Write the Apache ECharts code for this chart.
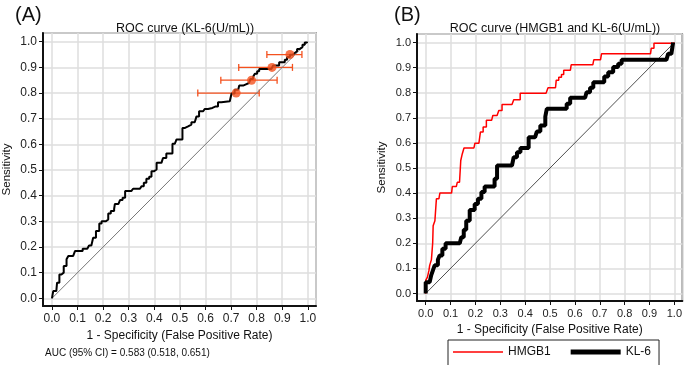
<!DOCTYPE html>
<html>
<head>
<meta charset="utf-8">
<script src="https://cdn.jsdelivr.net/npm/echarts@6/dist/echarts.min.js"></script>
<style>
  html, body { margin: 0; padding: 0; background: #fff; }
  #chart { width: 685px; height: 365px; }
</style>
</head>
<body>
<div id="chart"></div>
<script>
// panel A: KL-6 ROC curve (false positive rate, sensitivity)
const kl6A_fpr = [0, 0.005, 0.017, 0.02, 0.029, 0.037, 0.046, 0.057, 0.064, 0.083, 0.09, 0.109, 0.12, 0.138, 0.145, 0.154, 0.161, 0.172, 0.185, 0.194, 0.211, 0.22, 0.23, 0.243, 0.246, 0.26, 0.266, 0.276, 0.286, 0.31, 0.317, 0.344, 0.35, 0.359, 0.369, 0.38, 0.389, 0.398, 0.409, 0.428, 0.434, 0.447, 0.463, 0.471, 0.48, 0.487, 0.5, 0.51, 0.52, 0.532, 0.545, 0.558, 0.565, 0.575, 0.591, 0.597, 0.61, 0.627, 0.64, 0.649, 0.662, 0.695, 0.702, 0.714, 0.728, 0.732, 0.747, 0.756, 0.77, 0.776, 0.786, 0.793, 0.802, 0.81, 0.858, 0.864, 0.88, 0.888, 0.9, 0.91, 0.919, 0.93, 0.94, 0.949, 0.958, 0.969, 0.979, 0.988, 0.997];
const kl6A_tpr = [0, 0.028, 0.028, 0.061, 0.093, 0.10, 0.126, 0.152, 0.165, 0.165, 0.184, 0.184, 0.193, 0.197, 0.206, 0.206, 0.236, 0.262, 0.292, 0.30, 0.307, 0.331, 0.34, 0.348, 0.368, 0.37, 0.383, 0.392, 0.418, 0.42, 0.427, 0.427, 0.437, 0.45, 0.466, 0.474, 0.495, 0.502, 0.528, 0.528, 0.547, 0.564, 0.564, 0.602, 0.602, 0.619, 0.619, 0.664, 0.67, 0.677, 0.686, 0.686, 0.709, 0.729, 0.729, 0.738, 0.742, 0.748, 0.748, 0.764, 0.768, 0.768, 0.798, 0.813, 0.813, 0.829, 0.833, 0.839, 0.839, 0.855, 0.863, 0.875, 0.885, 0.894, 0.898, 0.907, 0.907, 0.92, 0.92, 0.93, 0.94, 0.949, 0.956, 0.963, 0.972, 0.979, 0.988, 0.997, 1.0];

// cut-off points with 95% CI on the false positive rate
const cutFpr = [0.72, 0.78, 0.86, 0.93];
const cutTpr = [0.80, 0.85, 0.90, 0.95];
const cutLow = [0.57, 0.66, 0.73, 0.84];
const cutHigh = [0.81, 0.88, 0.94, 0.977];

// panel B: HMGB1 and KL-6
const hmgb1_fpr = [0, 0, 0.007, 0.013, 0.016, 0.023, 0.028, 0.03, 0.037, 0.043, 0.053, 0.057, 0.104, 0.107, 0.123, 0.127, 0.136, 0.141, 0.147, 0.154, 0.194, 0.198, 0.214, 0.22, 0.231, 0.244, 0.265, 0.27, 0.287, 0.294, 0.307, 0.347, 0.354, 0.371, 0.38, 0.484, 0.492, 0.522, 0.525, 0.535, 0.546, 0.555, 0.582, 0.585, 0.672, 0.676, 0.703, 0.707, 0.904, 0.907, 0.918, 0.998, 1.0];
const hmgb1_tpr = [0, 0.052, 0.065, 0.092, 0.112, 0.135, 0.2, 0.27, 0.29, 0.377, 0.377, 0.4, 0.4, 0.426, 0.426, 0.443, 0.443, 0.53, 0.556, 0.58, 0.58, 0.599, 0.599, 0.643, 0.663, 0.69, 0.69, 0.709, 0.709, 0.729, 0.753, 0.753, 0.772, 0.772, 0.798, 0.798, 0.82, 0.82, 0.85, 0.862, 0.873, 0.89, 0.89, 0.911, 0.911, 0.931, 0.931, 0.955, 0.955, 0.977, 0.997, 0.997, 1.0];

const kl6B_fpr = [0, 0, 0.016, 0.022, 0.029, 0.036, 0.049, 0.056, 0.067, 0.08, 0.137, 0.143, 0.153, 0.163, 0.177, 0.197, 0.21, 0.224, 0.237, 0.264, 0.277, 0.287, 0.347, 0.354, 0.367, 0.381, 0.405, 0.414, 0.44, 0.447, 0.461, 0.481, 0.487, 0.554, 0.567, 0.581, 0.641, 0.647, 0.661, 0.674, 0.708, 0.718, 0.734, 0.754, 0.774, 0.788, 0.968, 0.975, 0.988, 0.995];
const kl6B_tpr = [0, 0.045, 0.045, 0.072, 0.092, 0.112, 0.134, 0.151, 0.178, 0.2, 0.2, 0.224, 0.254, 0.29, 0.333, 0.357, 0.377, 0.404, 0.426, 0.426, 0.457, 0.51, 0.51, 0.543, 0.563, 0.58, 0.58, 0.623, 0.623, 0.645, 0.669, 0.705, 0.736, 0.736, 0.756, 0.78, 0.78, 0.802, 0.82, 0.842, 0.842, 0.865, 0.882, 0.902, 0.915, 0.931, 0.931, 0.955, 0.955, 1.0];

const diag = [[0, 0], [1, 1]];
const zip = (a, b) => a.map((v, i) => [v, b[i]]);

const FONT = 'Liberation Sans';
const gridLine = { show: true, lineStyle: { color: '#dedede', width: 1.5 } };

function xAxisFor(idx, gap, size) {
  return {
    type: 'value', gridIndex: idx, min: -0.035, max: 1.032, splitNumber: 10,
    name: '1 - Specificity (False Positive Rate)', nameLocation: 'middle', nameGap: gap,
    nameTextStyle: { fontFamily: FONT, fontSize: 12, color: '#111' },
    axisLine: { show: true, onZero: false, lineStyle: { color: '#111', width: 2 } },
    axisTick: { show: true, length: 4, lineStyle: { color: '#111' } },
    axisLabel: { showMinLabel: false, showMaxLabel: false, fontFamily: FONT, fontSize: size, color: '#222', margin: 7,
      formatter: v => v.toFixed(1) },
    splitLine: gridLine
  };
}
function yAxisFor(idx, gap, size) {
  return {
    type: 'value', gridIndex: idx, min: -0.03, max: 1.034, splitNumber: 10,
    name: 'Sensitivity', nameLocation: 'middle', nameGap: gap,
    nameTextStyle: { fontFamily: FONT, fontSize: 11.5, color: '#111' },
    axisLine: { show: true, onZero: false, lineStyle: { color: '#111', width: 2 } },
    axisTick: { show: true, length: 4, lineStyle: { color: '#111' } },
    axisLabel: { showMinLabel: false, showMaxLabel: false, fontFamily: FONT, fontSize: size, color: '#222', margin: 6,
      formatter: v => v.toFixed(1) },
    splitLine: gridLine
  };
}

const chart = echarts.init(document.getElementById('chart'), null, { renderer: 'canvas' });
chart.setOption({
  animation: false,
  backgroundColor: '#fff',
  title: [
    { text: '(A)', left: 10, top: 0, textStyle: { fontFamily: FONT, fontSize: 20, fontWeight: 'normal', color: '#111' } },
    { text: '(B)', left: 389, top: 0, textStyle: { fontFamily: FONT, fontSize: 20, fontWeight: 'normal', color: '#111' } },
    { text: 'ROC curve (KL-6(U/mL))', left: 180, top: 17, textAlign: 'center',
      textStyle: { fontFamily: FONT, fontSize: 12.5, fontWeight: 'normal', color: '#111' } },
    { text: 'ROC curve (HMGB1 and KL-6(U/mL))', left: 550, top: 17, textAlign: 'center',
      textStyle: { fontFamily: FONT, fontSize: 12.5, fontWeight: 'normal', color: '#111' } },
    { text: 'AUC (95% CI) = 0.583 (0.518, 0.651)', left: 40, top: 343,
      textStyle: { fontFamily: FONT, fontSize: 10, fontWeight: 'normal', color: '#111' } }
  ],
  legend: {
    left: 448, top: 340, width: 206,
    orient: 'horizontal', itemGap: 20, itemWidth: 50, itemHeight: 10,
    borderColor: '#222', borderWidth: 1, padding: [6, 8, 8, 5],
    textStyle: { fontFamily: FONT, fontSize: 12, color: '#111' },
    data: [
      { name: 'HMGB1', icon: 'path://M0 0H50V1.6H0Z', itemStyle: { color: '#ff0000' } },
      { name: 'KL-6', icon: 'path://M0 0H50V5H0Z', itemStyle: { color: '#000' } }
    ]
  },
  grid: [
    { left: 43, top: 33, width: 273, height: 273, show: true, borderColor: '#666', borderWidth: 1.5 },
    { left: 417, top: 34, width: 266, height: 267, show: true, borderColor: '#666', borderWidth: 1.5 }
  ],
  xAxis: [xAxisFor(0, 21, 12), xAxisFor(1, 18, 11)],
  yAxis: [yAxisFor(0, 30, 12), yAxisFor(1, 29, 11)],
  series: [
    { type: 'line', xAxisIndex: 0, yAxisIndex: 0, data: diag, showSymbol: false,
      lineStyle: { color: '#777', width: 1 }, silent: true },
    { type: 'line', xAxisIndex: 0, yAxisIndex: 0, data: zip(kl6A_fpr, kl6A_tpr), step: 'end', showSymbol: false,
      lineStyle: { color: '#000', width: 2 } },
    { type: 'custom', xAxisIndex: 0, yAxisIndex: 0, data: cutFpr.map((v, i) => [cutLow[i], cutHigh[i], cutTpr[i]]),
      renderItem: function (params, api) {
        const a = api.coord([api.value(0), api.value(2)]);
        const b = api.coord([api.value(1), api.value(2)]);
        const st = { stroke: '#f4511e', lineWidth: 1.3 };
        return { type: 'group', children: [
          { type: 'line', shape: { x1: a[0], y1: a[1], x2: b[0], y2: b[1] }, style: st },
          { type: 'line', shape: { x1: a[0], y1: a[1] - 3.5, x2: a[0], y2: a[1] + 3.5 }, style: st },
          { type: 'line', shape: { x1: b[0], y1: b[1] - 3.5, x2: b[0], y2: b[1] + 3.5 }, style: st }
        ] };
      }, z: 3 },
    { type: 'scatter', xAxisIndex: 0, yAxisIndex: 0, data: zip(cutFpr, cutTpr), symbolSize: 9,
      itemStyle: { color: '#f4511e' }, z: 4 },

    { type: 'line', xAxisIndex: 1, yAxisIndex: 1, data: diag, showSymbol: false,
      lineStyle: { color: '#222', width: 0.8 }, silent: true },
    { name: 'HMGB1', type: 'line', xAxisIndex: 1, yAxisIndex: 1, data: zip(hmgb1_fpr, hmgb1_tpr), step: 'end',
      showSymbol: false, color: '#ff0000', lineStyle: { color: '#ff0000', width: 1.5 } },
    { name: 'KL-6', type: 'line', xAxisIndex: 1, yAxisIndex: 1, data: zip(kl6B_fpr, kl6B_tpr), step: 'end',
      showSymbol: false, color: '#000', lineStyle: { color: '#000', width: 4 } }
  ]
});
</script>
</body>
</html>
